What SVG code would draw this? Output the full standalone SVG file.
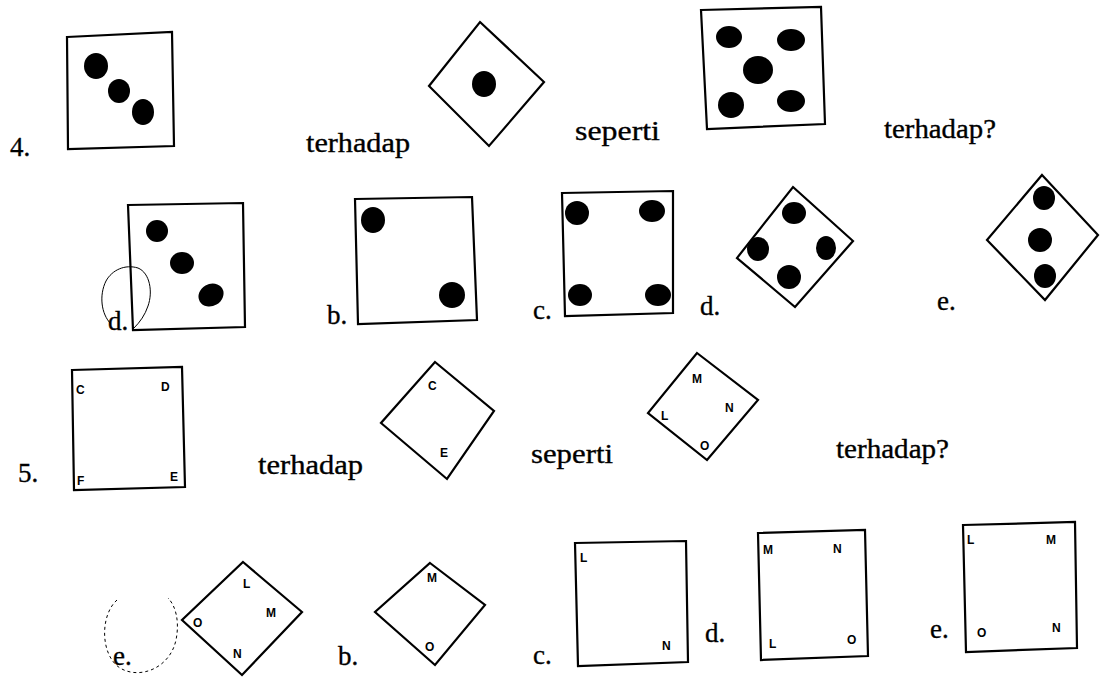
<svg xmlns="http://www.w3.org/2000/svg" width="1103" height="680" viewBox="0 0 1103 680">
<style>
.bg{fill:#ffffff}
.sh{fill:none;stroke:#000;stroke-width:2.2;stroke-linejoin:miter}
.dot{fill:#000}
.t{font-family:"Liberation Serif","Times New Roman",serif;font-size:27px;fill:#000;stroke:#000;stroke-width:0.35}
.lt{font-family:"Liberation Sans",Arial,sans-serif;font-size:12px;font-weight:bold;fill:#000}
.loop{fill:none;stroke:#000;stroke-width:1}
.dash{fill:none;stroke:#000;stroke-width:1;stroke-dasharray:3 3}
</style>
<rect class="bg" x="0" y="0" width="1103" height="680"/>

<g id="q4-label"><text class="t" x="10" y="156">4.</text></g>
<g id="q4-square-three">
<polygon class="sh" points="67,37 172,32 174,146 68,149"/>
<ellipse class="dot" cx="96" cy="66" rx="12" ry="13"/>
<ellipse class="dot" cx="119" cy="91" rx="11" ry="12"/>
<ellipse class="dot" cx="143" cy="112" rx="11" ry="13"/>
</g>
<g id="q4-text1"><text class="t" x="306" y="152" textLength="104" lengthAdjust="spacingAndGlyphs">terhadap</text></g>
<g id="q4-diamond-one">
<polygon class="sh" points="480,22 544,82 489,146 429,86"/>
<ellipse class="dot" cx="484" cy="84" rx="12" ry="13"/>
</g>
<g id="q4-text2"><text class="t" x="575" y="140" textLength="85" lengthAdjust="spacingAndGlyphs">seperti</text></g>
<g id="q4-square-five">
<polygon class="sh" points="701,10 821,7 825,124 707,129"/>
<ellipse class="dot" cx="729" cy="37" rx="13" ry="11"/>
<ellipse class="dot" cx="791" cy="40" rx="14" ry="11"/>
<ellipse class="dot" cx="758" cy="70" rx="15" ry="14"/>
<ellipse class="dot" cx="731" cy="105" rx="13" ry="13"/>
<ellipse class="dot" cx="791" cy="101" rx="14" ry="11"/>
</g>
<g id="q4-text3"><text class="t" x="884" y="138" textLength="112" lengthAdjust="spacingAndGlyphs">terhadap?</text></g>

<g id="q4-option-a">
<polygon class="sh" points="128,205 243,203 245,327 133,330"/>
<ellipse class="dot" cx="157" cy="231" rx="11" ry="11"/>
<ellipse class="dot" cx="182" cy="263" rx="12" ry="11"/>
<ellipse class="dot" cx="211" cy="295" rx="13" ry="11" transform="rotate(-30 211 295)"/>
<path class="loop" d="M111,324 C101,314 99,295 106,281 C112,270 125,264 138,268 C150,273 153,292 148,306 C145,315 140,322 134,328"/>
<text class="t" x="108" y="330">d.</text>
</g>
<g id="q4-option-b">
<text class="t" x="327" y="324">b.</text>
<polygon class="sh" points="355,199 472,197 477,320 358,324"/>
<ellipse class="dot" cx="373" cy="220" rx="12" ry="13"/>
<ellipse class="dot" cx="452" cy="295" rx="13" ry="13"/>
</g>
<g id="q4-option-c">
<text class="t" x="533" y="319">c.</text>
<polygon class="sh" points="562,193 673,191 673,313 565,316"/>
<ellipse class="dot" cx="577" cy="213" rx="12" ry="12"/>
<ellipse class="dot" cx="652" cy="211" rx="13" ry="11"/>
<ellipse class="dot" cx="580" cy="295" rx="12" ry="11"/>
<ellipse class="dot" cx="658" cy="295" rx="13" ry="11"/>
</g>
<g id="q4-option-d">
<text class="t" x="700" y="315">d.</text>
<polygon class="sh" points="793,187 853,241 795,307 737,258"/>
<ellipse class="dot" cx="794" cy="213" rx="12" ry="11"/>
<ellipse class="dot" cx="758" cy="249" rx="11" ry="12"/>
<ellipse class="dot" cx="826" cy="248" rx="10" ry="12"/>
<ellipse class="dot" cx="789" cy="277" rx="12" ry="12"/>
</g>
<g id="q4-option-e">
<text class="t" x="937" y="310">e.</text>
<polygon class="sh" points="1042,175 1098,235 1045,300 987,240"/>
<ellipse class="dot" cx="1044" cy="198" rx="11" ry="12"/>
<ellipse class="dot" cx="1040" cy="240" rx="12" ry="12"/>
<ellipse class="dot" cx="1045" cy="276" rx="11" ry="12"/>
</g>

<g id="q5-label"><text class="t" x="18" y="482">5.</text></g>
<g id="q5-rect-cdfe">
<polygon class="sh" points="72,370 182,367 185,487 74,490"/>
<text class="lt" x="76" y="394">C</text>
<text class="lt" x="161" y="391">D</text>
<text class="lt" x="77" y="485">F</text>
<text class="lt" x="170" y="481">E</text>
</g>
<g id="q5-text1"><text class="t" x="258" y="474" textLength="105" lengthAdjust="spacingAndGlyphs">terhadap</text></g>
<g id="q5-diamond-ce">
<polygon class="sh" points="435,362 494,411 447,479 381,423"/>
<text class="lt" x="428" y="390">C</text>
<text class="lt" x="440" y="457">E</text>
</g>
<g id="q5-text2"><text class="t" x="531" y="463" textLength="82" lengthAdjust="spacingAndGlyphs">seperti</text></g>
<g id="q5-diamond-lmno">
<polygon class="sh" points="697,353 758,400 707,460 648,413"/>
<text class="lt" x="692" y="383">M</text>
<text class="lt" x="725" y="412">N</text>
<text class="lt" x="661" y="420">L</text>
<text class="lt" x="700" y="450">O</text>
</g>
<g id="q5-text3"><text class="t" x="836" y="458" textLength="113" lengthAdjust="spacingAndGlyphs">terhadap?</text></g>

<g id="q5-option-a">
<path class="dash" d="M117,600 C100,615 100,655 120,668 C140,680 170,668 176,640 C180,620 175,605 168,598"/>
<text class="t" x="113" y="665">e.</text>
<polygon class="sh" points="243,562 302,612 242,675 182,620"/>
<text class="lt" x="243" y="588">L</text>
<text class="lt" x="266" y="617">M</text>
<text class="lt" x="193" y="627">O</text>
<text class="lt" x="233" y="658">N</text>
</g>
<g id="q5-option-b">
<text class="t" x="338" y="665">b.</text>
<polygon class="sh" points="430,563 485,605 435,665 375,612"/>
<text class="lt" x="427" y="582">M</text>
<text class="lt" x="425" y="651">O</text>
</g>
<g id="q5-option-c">
<text class="t" x="533" y="664">c.</text>
<polygon class="sh" points="575,543 686,541 688,662 578,666"/>
<text class="lt" x="580" y="562">L</text>
<text class="lt" x="662" y="650">N</text>
</g>
<g id="q5-option-d">
<text class="t" x="705" y="642">d.</text>
<polygon class="sh" points="758,533 865,530 868,656 761,660"/>
<text class="lt" x="763" y="554">M</text>
<text class="lt" x="833" y="553">N</text>
<text class="lt" x="769" y="648">L</text>
<text class="lt" x="847" y="644">O</text>
</g>
<g id="q5-option-e">
<text class="t" x="930" y="638">e.</text>
<polygon class="sh" points="963,525 1075,522 1077,648 966,652"/>
<text class="lt" x="967" y="544">L</text>
<text class="lt" x="1046" y="544">M</text>
<text class="lt" x="977" y="637">O</text>
<text class="lt" x="1052" y="632">N</text>
</g>
</svg>
